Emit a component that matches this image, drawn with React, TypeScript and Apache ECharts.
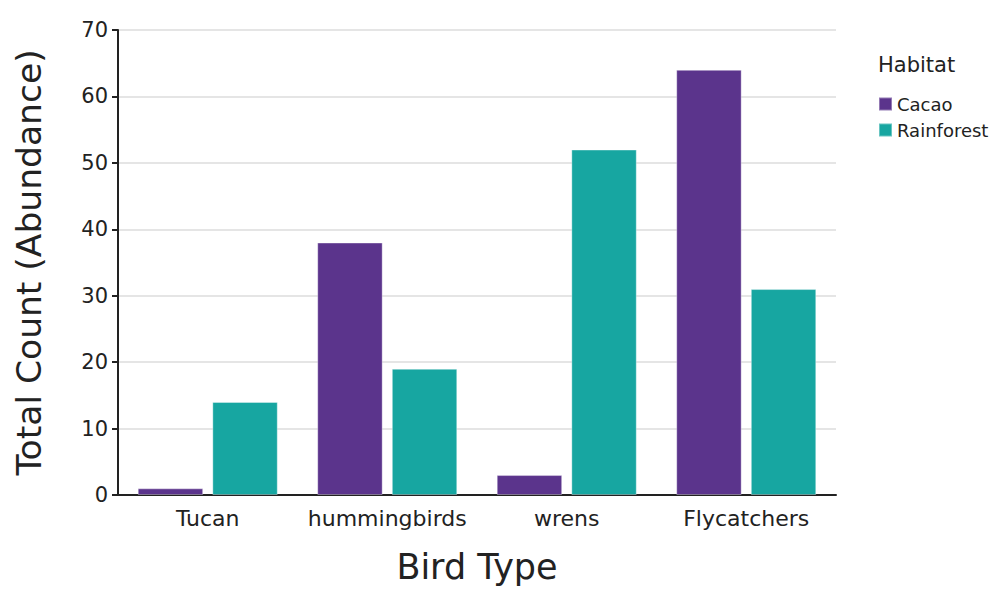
import { useEffect, useRef } from "react";
import * as echarts from "echarts";

const birdTypes = ["Tucan", "hummingbirds", "wrens", "Flycatchers"];
const cacaoCounts = [1, 38, 3, 64];
const rainforestCounts = [14, 19, 52, 31];
const yTicks = { min: 0, max: 70, interval: 10 };

const FONT = "DejaVu Sans";
const CACAO = "#5b348c";
const RAINFOREST = "#17a6a1";

export default function App() {
  const ref = useRef<HTMLDivElement>(null);

  useEffect(() => {
    if (!ref.current) return;
    const inst = echarts.init(ref.current, undefined, { renderer: "svg" });
    inst.setOption({
      animation: false,
      backgroundColor: "#fff",
      textStyle: { fontFamily: FONT },
      grid: { left: 118, right: 164, top: 30, bottom: 103, containLabel: false },
      legend: {
        orient: "vertical",
        left: 878,
        top: 95,
        padding: 0,
        itemWidth: 13,
        itemHeight: 13,
        itemGap: 8,
        icon: "rect",
        textStyle: { fontFamily: FONT, fontSize: 18, color: "#222" },
        data: ["Cacao", "Rainforest"],
      },
      graphic: [
        {
          type: "text",
          left: 878,
          top: 54,
          style: { text: "Habitat", font: `21px "${FONT}"`, fill: "#222" },
        },
      ],
      xAxis: {
        type: "category",
        data: birdTypes,
        name: "Bird Type",
        nameLocation: "middle",
        nameGap: 54,
        nameTextStyle: { fontFamily: FONT, fontSize: 35, color: "#222" },
        axisLine: { lineStyle: { color: "#222", width: 2 } },
        axisTick: { alignWithLabel: true, interval: 0, length: 6, lineStyle: { color: "#222", width: 2 } },
        axisLabel: { interval: 0, fontFamily: FONT, fontSize: 22, color: "#222", margin: 12 },
      },
      yAxis: {
        type: "value",
        min: yTicks.min,
        max: yTicks.max,
        interval: yTicks.interval,
        name: "Total Count (Abundance)",
        nameLocation: "middle",
        nameGap: 72,
        nameTextStyle: { fontFamily: FONT, fontSize: 34.5, color: "#222" },
        axisLine: { show: true, lineStyle: { color: "#222", width: 2 } },
        axisTick: { show: true, length: 6, lineStyle: { color: "#222", width: 2 } },
        axisLabel: { fontFamily: FONT, fontSize: 21, color: "#222", margin: 10 },
        splitLine: { lineStyle: { color: "#dcdcdc", width: 1.5 } },
      },
      series: [
        {
          name: "Cacao",
          type: "bar",
          data: cacaoCounts,
          barGap: "14%",
          barCategoryGap: "22%",
          itemStyle: { color: CACAO, borderColor: "rgba(255,255,255,0.35)", borderWidth: 1 },
        },
        {
          name: "Rainforest",
          type: "bar",
          data: rainforestCounts,
          itemStyle: { color: RAINFOREST, borderColor: "rgba(255,255,255,0.35)", borderWidth: 1 },
        },
      ],
    });
    return () => inst.dispose();
  }, []);

  return <div ref={ref} style={{ width: 1000, height: 598, margin: -8 }} />;
}
